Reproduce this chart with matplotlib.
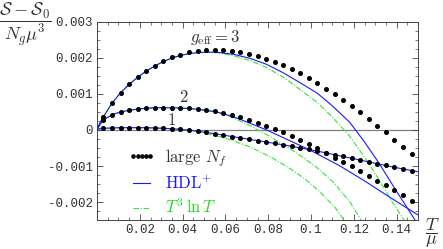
import matplotlib
matplotlib.use('Agg')
import matplotlib.pyplot as plt
from matplotlib.lines import Line2D
from matplotlib.ticker import FixedLocator, MultipleLocator

plt.rcParams['mathtext.fontset'] = 'cm'

# ---- data (S in units of 1e-3) ----
T_dots = [0.003, 0.007, 0.011, 0.015, 0.019, 0.023, 0.027, 0.031, 0.035, 0.039,
          0.043, 0.047, 0.051, 0.055, 0.059, 0.063, 0.067, 0.071, 0.075, 0.079,
          0.083, 0.087, 0.091, 0.095, 0.099, 0.103, 0.107, 0.111, 0.115, 0.119,
          0.123, 0.127, 0.131, 0.135, 0.139, 0.143, 0.147]
nf_g3 = [0.369, 0.742, 1.036, 1.269, 1.464, 1.639, 1.786, 1.908, 2.019, 2.092,
         2.158, 2.194, 2.222, 2.231, 2.231, 2.203, 2.158, 2.119, 2.064, 1.981,
         1.889, 1.797, 1.686, 1.575, 1.444, 1.306, 1.147, 1.000, 0.833, 0.667,
         0.492, 0.314, 0.119, -0.069, -0.269, -0.464, -0.667]
nf_g2 = [0.278, 0.425, 0.500, 0.547, 0.583, 0.603, 0.619, 0.619, 0.619, 0.611,
         0.603, 0.583, 0.556, 0.522, 0.467, 0.417, 0.353, 0.278, 0.194, 0.117,
         0.028, -0.069, -0.167, -0.278, -0.383, -0.508, -0.639, -0.764, -0.881, -1.000,
         -1.131, -1.269, -1.408, -1.536, -1.675, -1.814, -1.964]
nf_g1 = [0.047, 0.056, 0.064, 0.064, 0.064, 0.064, 0.056, 0.047, 0.036, 0.019,
         0.000, -0.033, -0.067, -0.103, -0.142, -0.181, -0.219, -0.256, -0.294, -0.333,
         -0.372, -0.411, -0.453, -0.494, -0.539, -0.586, -0.636, -0.686, -0.736, -0.786,
         -0.836, -0.886, -0.936, -0.986, -1.036, -1.089, -1.144]

T_hdl_g3 = [0, 0.0005, 0.0015, 0.003, 0.007, 0.011, 0.015, 0.019, 0.023, 0.027, 0.031,
            0.035, 0.039, 0.043, 0.047, 0.051, 0.056, 0.064, 0.0715, 0.079, 0.087,
            0.095, 0.103, 0.110, 0.118, 0.125, 0.132, 0.139, 0.1486]
hdl_g3 = [0, 0.09, 0.21, 0.369, 0.742, 1.036, 1.269, 1.464, 1.635, 1.78, 1.90,
          2.00, 2.07, 2.12, 2.15, 2.163, 2.16, 2.10, 1.99, 1.83, 1.59,
          1.31, 1.02, 0.67, 0.22, -0.33, -0.94, -1.61, -2.5]
T_t3_g3 = [0, 0.0005, 0.0015, 0.003, 0.007, 0.011, 0.015, 0.019, 0.023, 0.027, 0.031,
           0.035, 0.039, 0.043, 0.047, 0.051, 0.056, 0.064, 0.0715, 0.079, 0.087,
           0.095, 0.103, 0.110, 0.118, 0.125, 0.132, 0.139, 0.1435]
t3_g3 = [0, 0.09, 0.21, 0.369, 0.742, 1.036, 1.269, 1.464, 1.635, 1.78, 1.90,
         2.00, 2.07, 2.12, 2.15, 2.16, 2.15, 2.06, 1.93, 1.74, 1.47,
         1.12, 0.76, 0.36, -0.17, -0.75, -1.40, -2.10, -2.5]

T_hdl_g2 = [0, 0.0005, 0.0015, 0.003, 0.007, 0.011, 0.015, 0.019, 0.023, 0.027, 0.031,
            0.035, 0.039, 0.043, 0.047, 0.051, 0.055, 0.059, 0.0668, 0.0793, 0.0995,
            0.1136, 0.1252, 0.1374, 0.15]
hdl_g2 = [0, 0.06, 0.16, 0.278, 0.425, 0.500, 0.547, 0.583, 0.603, 0.619, 0.619,
          0.617, 0.608, 0.597, 0.575, 0.545, 0.51, 0.455, 0.30, 0.0, -0.556,
          -1.0, -1.42, -1.89, -2.36]
T_t3_g2 = [0, 0.0005, 0.0015, 0.003, 0.007, 0.011, 0.015, 0.019, 0.023, 0.027, 0.031,
           0.035, 0.039, 0.043, 0.047, 0.051, 0.055, 0.059, 0.0621, 0.0715, 0.0808,
           0.0902, 0.0972, 0.1042, 0.1112, 0.1182, 0.1234]
t3_g2 = [0, 0.06, 0.16, 0.278, 0.425, 0.500, 0.547, 0.583, 0.603, 0.619, 0.619,
         0.617, 0.608, 0.597, 0.575, 0.545, 0.51, 0.45, 0.38, 0.12, -0.18,
         -0.52, -0.80, -1.11, -1.50, -2.00, -2.5]

T_hdl_g1 = [0, 0.0005, 0.0015, 0.003, 0.011, 0.023, 0.031, 0.039, 0.047, 0.055,
            0.067, 0.079, 0.091, 0.103, 0.115, 0.127, 0.139, 0.15]
hdl_g1 = [0, 0.02, 0.038, 0.047, 0.064, 0.064, 0.047, 0.019, -0.033, -0.103,
          -0.219, -0.333, -0.453, -0.586, -0.736, -0.886, -1.036, -1.16]
T_t3_g1 = [0, 0.0005, 0.0015, 0.003, 0.011, 0.023, 0.031, 0.039, 0.043, 0.047,
           0.055, 0.0612, 0.0715, 0.0808, 0.0902, 0.0972, 0.1042, 0.1112, 0.1154]
t3_g1 = [0, 0.02, 0.038, 0.047, 0.064, 0.064, 0.047, 0.019, 0.0, -0.045,
         -0.15, -0.25, -0.47, -0.74, -1.07, -1.36, -1.72, -2.15, -2.5]

x_ticks = [0.02, 0.04, 0.06, 0.08, 0.10, 0.12, 0.14]
x_tick_labels = ["0.02", "0.04", "0.06", "0.08", "0.1", "0.12", "0.14"]
y_ticks = [0.003, 0.002, 0.001, 0.0, -0.001, -0.002]
y_tick_labels = ["0.003", "0.002", "0.001", "0", "-0.001", "-0.002"]
legend_labels = [r"$\mathrm{large}\ N_f$", r"$\mathrm{HDL}^{+}$", r"$T^3\,\ln T$"]

def sc(v):
    return [s * 1e-3 for s in v]

BLUE = '#1a1aff'
GREEN = '#33e633'

fig = plt.figure(figsize=(4.43, 2.49), dpi=100)
ax = fig.add_axes([97/443, 29/249, 321/443, 198/249])

ax.axhline(0, color='#808080', lw=0.9, zorder=1)

for T, S in [(T_t3_g3, t3_g3), (T_t3_g2, t3_g2), (T_t3_g1, t3_g1)]:
    ax.plot(T, sc(S), color=GREEN, lw=0.8, ls=(0, (5, 1.5, 1, 1.5)), zorder=2)
for T, S in [(T_hdl_g3, hdl_g3), (T_hdl_g2, hdl_g2), (T_hdl_g1, hdl_g1)]:
    ax.plot(T, sc(S), color=BLUE, lw=0.8, zorder=3)
for S in [nf_g3, nf_g2, nf_g1]:
    ax.plot(T_dots, sc(S), ls='none', marker='o', ms=2.6, color='black', zorder=4)

ax.set_xlim(0, 0.15)
ax.set_ylim(-0.0025, 0.003)
ax.xaxis.set_major_locator(FixedLocator(x_ticks))
ax.set_xticklabels(x_tick_labels)
ax.yaxis.set_major_locator(FixedLocator(y_ticks))
ax.set_yticklabels(y_tick_labels)
ax.xaxis.set_minor_locator(MultipleLocator(0.005))
ax.yaxis.set_minor_locator(MultipleLocator(0.00025))
ax.tick_params(which='both', direction='in', top=True, right=True, color='#444444')
ax.tick_params(which='major', length=4, width=0.6, labelsize=9, pad=3)
ax.tick_params(which='minor', length=2, width=0.5)
for lab in ax.get_xticklabels() + ax.get_yticklabels():
    lab.set_family('Liberation Mono')
    lab.set_color('#333333')
for sp in ax.spines.values():
    sp.set_color('#444444')
    sp.set_linewidth(0.7)

ax.text(0.0551, 0.00258, r"$g_{\mathrm{eff}}=3$", ha='center', va='center', fontsize=12, color='#333333')
ax.text(0.0407, 0.000917, r"$2$", ha='center', va='center', fontsize=12, color='#333333')
ax.text(0.0346, 0.000278, r"$1$", ha='center', va='center', fontsize=12, color='#333333')

handles = [Line2D([], [], ls='none', marker='o', ms=2.3, color='black'),
           Line2D([], [], color=BLUE, lw=0.8),
           Line2D([], [], color=GREEN, lw=0.8, ls=(0, (5, 1.5, 1, 1.5)))]
leg = ax.legend(handles, legend_labels, loc='upper left', bbox_to_anchor=(0.072, 0.41),
                frameon=False, numpoints=5, fontsize=12, handlelength=1.6,
                handletextpad=0.6, labelspacing=0.35, borderpad=0.0)
for txt, c in zip(leg.get_texts(), ['#333333', BLUE, '#22dd22']):
    txt.set_color(c)

fig.text(25/443, 1 - 24/249, r"$\dfrac{\mathcal{S}-\mathcal{S}_0}{N_g\mu^3}$",
         ha='center', va='center', fontsize=13, color='#333333')
fig.text(432/443, 1 - 233/249, r"$\dfrac{T}{\mu}$", ha='center', va='center',
         fontsize=13, color='#333333')

fig.savefig('out.png', dpi=100)
